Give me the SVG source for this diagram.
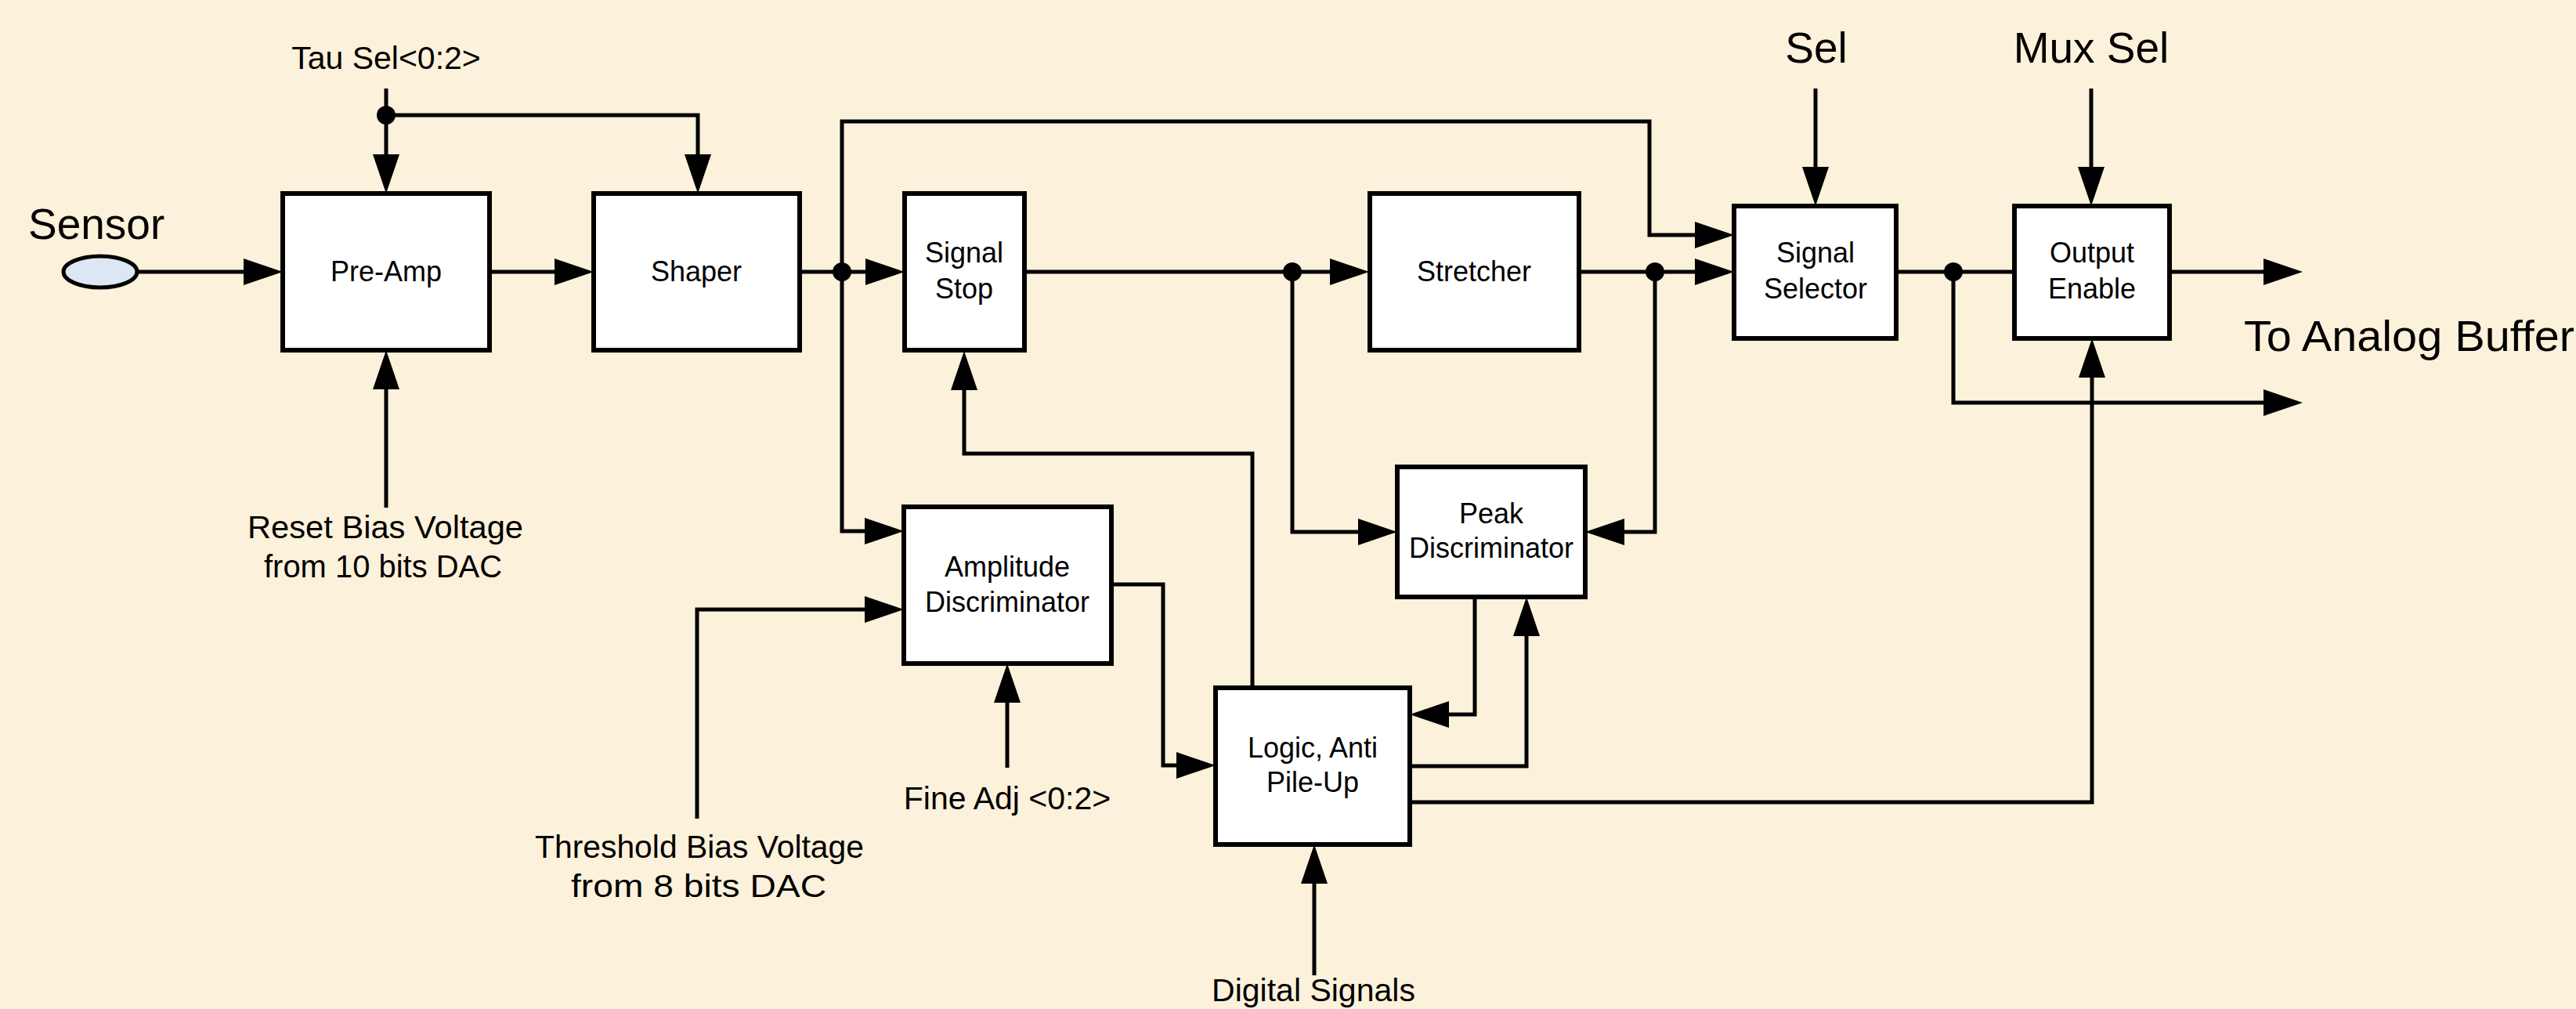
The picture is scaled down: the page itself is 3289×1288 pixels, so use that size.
<svg xmlns="http://www.w3.org/2000/svg" width="3289" height="1288" viewBox="0 0 3289 1288">
<style>
.box{fill:#ffffff;stroke:#000;stroke-width:6}
.w{fill:none;stroke:#000;stroke-width:5;stroke-linejoin:miter}
.a{marker-end:url(#arr)}
.t{font-family:"Liberation Sans",Arial,sans-serif;fill:#000;text-anchor:middle}
.bt{font-size:36px}
.lt{font-size:41px}
.xl{font-size:55px}
.dot{fill:#000}
</style>
<defs>
<marker id="arr" markerUnits="userSpaceOnUse" markerWidth="52" markerHeight="36" refX="0" refY="17" orient="auto" viewBox="0 0 52 36">
<path d="M0,0 L50,17 L0,34 Z" fill="#000"/>
</marker>
</defs>
<rect width="3289" height="1288" fill="#FCF1DA"/>

<g id="connectors">
<path class="w a" d="M175,347 H311"/>
<path class="w a" d="M625,347 H708"/>
<path class="w a" d="M493,113 V197"/>
<path class="w a" d="M493,147 H891 V197"/>
<path class="w a" d="M493,648 V497"/>
<path class="w a" d="M1021,347 H1105"/>
<path class="w a" d="M1075,347 V155 H2106 V300 H2164"/>
<path class="w a" d="M1075,347 V678 H1104"/>
<path class="w a" d="M1308,347 H1698"/>
<path class="w a" d="M1650,347 V679 H1734"/>
<path class="w a" d="M2016,347 H2164"/>
<path class="w a" d="M2113,347 V679 H2074"/>
<path class="w" d="M2421,347 H2572"/>
<path class="w a" d="M2770,347 H2890"/>
<path class="w a" d="M2494,347 V514 H2890"/>
<path class="w a" d="M2318,113 V213"/>
<path class="w a" d="M2670,113 V213"/>
<path class="w a" d="M1800,1024 H2671 V482"/>
<path class="w a" d="M1599,878 V579 H1231 V498"/>
<path class="w a" d="M1419,746 H1485 V977 H1502"/>
<path class="w a" d="M890,1045 V778 H1104"/>
<path class="w a" d="M1286,980 V897"/>
<path class="w a" d="M1883,762 V912 H1850"/>
<path class="w a" d="M1800,978 H1949 V812"/>
<path class="w a" d="M1678,1245 V1128"/>
<circle class="dot" cx="493" cy="147" r="12"/>
<circle class="dot" cx="1075" cy="347" r="12"/>
<circle class="dot" cx="1650" cy="347" r="12"/>
<circle class="dot" cx="2113" cy="347" r="12"/>
<circle class="dot" cx="2494" cy="347" r="12"/>
</g>

<g id="sensor">
<ellipse cx="128" cy="347" rx="47" ry="20" fill="#DDE7F3" stroke="#000" stroke-width="5"/>
<text class="t xl" x="36" y="305" style="text-anchor:start">Sensor</text>
</g>

<g id="preamp">
<rect class="box" x="361" y="247" width="264" height="200"/>
<text class="t bt" x="493" y="359">Pre-Amp</text>
</g>

<g id="shaper">
<rect class="box" x="758" y="247" width="263" height="200"/>
<text class="t bt" x="889" y="359">Shaper</text>
</g>

<g id="signal-stop">
<rect class="box" x="1155" y="247" width="153" height="200"/>
<text class="t bt" x="1231" y="335">Signal</text>
<text class="t bt" x="1231" y="381">Stop</text>
</g>

<g id="stretcher">
<rect class="box" x="1749" y="247" width="267" height="200"/>
<text class="t bt" x="1882" y="359">Stretcher</text>
</g>

<g id="signal-selector">
<rect class="box" x="2214" y="263" width="207" height="169"/>
<text class="t bt" x="2318" y="335">Signal</text>
<text class="t bt" x="2318" y="381">Selector</text>
</g>

<g id="output-enable">
<rect class="box" x="2572" y="263" width="198" height="169"/>
<text class="t bt" x="2671" y="335">Output</text>
<text class="t bt" x="2671" y="381">Enable</text>
</g>

<g id="amplitude-discriminator">
<rect class="box" x="1154" y="647" width="265" height="200"/>
<text class="t bt" x="1286" y="736">Amplitude</text>
<text class="t bt" x="1286" y="781">Discriminator</text>
</g>

<g id="peak-discriminator">
<rect class="box" x="1784" y="596" width="240" height="166"/>
<text class="t bt" x="1904" y="668">Peak</text>
<text class="t bt" x="1904" y="712">Discriminator</text>
</g>

<g id="logic">
<rect class="box" x="1552" y="878" width="248" height="200"/>
<text class="t bt" x="1676" y="967">Logic, Anti</text>
<text class="t bt" x="1676" y="1011">Pile-Up</text>
</g>

<g id="labels">
<text class="t lt" x="493" y="88">Tau Sel&lt;0:2&gt;</text>
<text class="t lt" x="492" y="687" textLength="352" lengthAdjust="spacingAndGlyphs">Reset Bias Voltage</text>
<text class="t lt" x="489" y="737" textLength="304" lengthAdjust="spacingAndGlyphs">from 10 bits DAC</text>
<text class="t lt" x="893" y="1095" textLength="420" lengthAdjust="spacingAndGlyphs">Threshold Bias Voltage</text>
<text class="t lt" x="892" y="1145" textLength="326" lengthAdjust="spacingAndGlyphs">from 8 bits DAC</text>
<text class="t lt" x="1286" y="1033">Fine Adj &lt;0:2&gt;</text>
<text class="t lt" x="1677" y="1278">Digital Signals</text>
<text class="t xl" x="2319" y="80">Sel</text>
<text class="t xl" x="2670" y="80">Mux Sel</text>
<text class="t xl" x="2865" y="448" style="text-anchor:start" textLength="422" lengthAdjust="spacingAndGlyphs">To Analog Buffer</text>
</g>
</svg>
